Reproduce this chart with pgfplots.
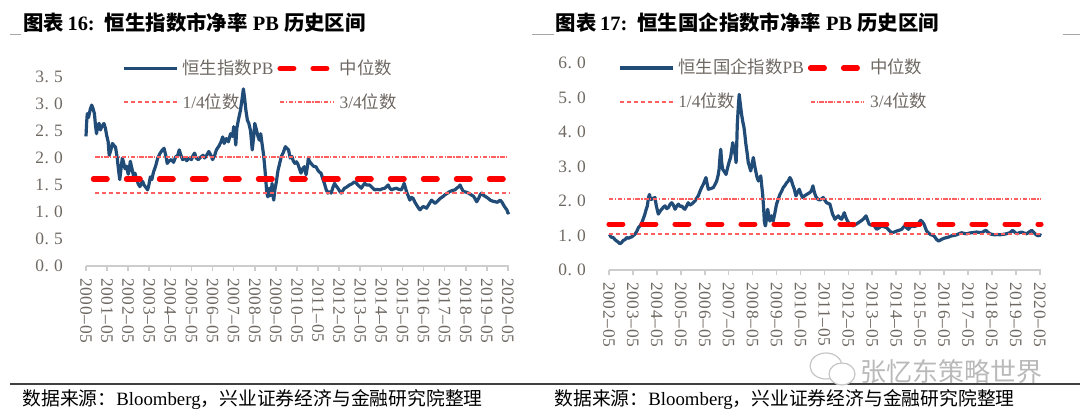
\documentclass[border=0pt]{standalone}
\usepackage{pgfplots}
\pgfplotsset{compat=1.18}
\usepackage{pgfplotstable}
\usepackage{fontspec}
\setmainfont{Liberation Serif}
\newfontfamily\cjk{Noto Sans CJK SC}
\newfontfamily\tickfont[LetterSpace=4]{Liberation Serif}
\definecolor{pbblue}{RGB}{33,76,120}
\definecolor{tickgray}{RGB}{110,104,98}
\definecolor{axisgray}{RGB}{205,205,205}
\definecolor{qred}{RGB}{255,95,95}

\pgfplotstableread{
t v
0.00 2.40
0.03 2.65
0.06 2.82
0.12 2.75
0.20 2.90
0.27 2.98
0.33 2.92
0.40 2.82
0.45 2.60
0.50 2.45
0.55 2.60
0.62 2.64
0.68 2.52
0.75 2.58
0.85 2.64
0.92 2.55
0.98 2.42
1.05 2.30
1.10 2.05
1.18 2.15
1.25 2.27
1.35 2.22
1.40 2.20
1.48 2.00
1.55 1.75
1.60 1.60
1.66 1.80
1.72 2.00
1.78 1.92
1.85 1.80
1.92 1.85
2.00 1.70
2.05 1.78
2.10 1.94
2.18 1.80
2.25 1.67
2.32 1.72
2.40 1.60
2.48 1.52
2.55 1.47
2.62 1.52
2.68 1.57
2.75 1.50
2.85 1.45
2.92 1.41
2.98 1.50
3.05 1.65
3.12 1.60
3.20 1.74
3.30 1.85
3.40 2.00
3.50 2.08
3.62 2.15
3.70 2.18
3.78 2.05
3.85 1.90
3.95 1.95
4.05 1.97
4.15 1.92
4.25 2.02
4.35 2.05
4.42 2.15
4.50 2.05
4.58 1.97
4.68 2.00
4.78 1.95
4.88 2.00
5.00 1.97
5.08 2.05
5.15 2.09
5.22 2.00
5.32 1.97
5.45 2.02
5.55 2.05
5.62 2.00
5.72 2.05
5.82 2.12
5.92 2.05
6.00 1.97
6.10 2.05
6.18 2.15
6.30 2.22
6.40 2.30
6.48 2.39
6.55 2.27
6.65 2.36
6.75 2.30
6.85 2.45
6.95 2.40
7.00 2.58
7.05 2.45
7.10 2.24
7.15 2.55
7.22 2.70
7.32 2.88
7.40 3.10
7.46 3.28
7.52 3.10
7.58 2.88
7.65 2.70
7.72 2.64
7.80 2.50
7.88 2.15
7.95 2.40
8.00 2.64
8.08 2.52
8.15 2.40
8.22 2.33
8.28 2.45
8.35 2.25
8.42 2.05
8.48 1.80
8.52 1.60
8.57 1.35
8.62 1.28
8.68 1.44
8.72 1.30
8.78 1.35
8.82 1.53
8.86 1.30
8.90 1.22
8.95 1.41
9.02 1.55
9.10 1.77
9.18 1.90
9.26 2.03
9.35 2.10
9.45 2.21
9.52 2.18
9.60 2.15
9.68 2.00
9.76 2.03
9.82 1.95
9.90 1.90
9.98 1.93
10.05 1.88
10.12 1.80
10.19 1.72
10.27 1.80
10.35 1.84
10.43 1.69
10.50 1.85
10.54 2.00
10.60 1.93
10.67 1.90
10.75 1.86
10.82 1.84
10.90 1.84
10.98 1.78
11.06 1.74
11.14 1.72
11.22 1.62
11.30 1.53
11.38 1.42
11.46 1.35
11.54 1.38
11.62 1.35
11.70 1.45
11.78 1.53
11.86 1.48
11.94 1.44
12.02 1.39
12.10 1.35
12.18 1.40
12.25 1.44
12.35 1.46
12.49 1.50
12.60 1.52
12.73 1.56
12.82 1.53
12.89 1.50
12.97 1.47
13.05 1.44
13.13 1.49
13.21 1.53
13.30 1.50
13.44 1.50
13.55 1.46
13.68 1.41
13.80 1.42
13.92 1.41
14.05 1.43
14.16 1.44
14.25 1.47
14.32 1.50
14.40 1.44
14.48 1.41
14.60 1.43
14.71 1.44
14.82 1.42
14.95 1.41
15.02 1.47
15.08 1.53
15.14 1.45
15.19 1.38
15.27 1.30
15.35 1.22
15.43 1.27
15.51 1.25
15.59 1.18
15.67 1.13
15.75 1.08
15.83 1.04
15.90 1.07
15.98 1.10
16.06 1.09
16.14 1.07
16.25 1.14
16.38 1.22
16.46 1.19
16.54 1.16
16.66 1.20
16.78 1.25
16.90 1.28
17.02 1.32
17.14 1.35
17.25 1.38
17.38 1.40
17.49 1.41
17.60 1.45
17.68 1.47
17.73 1.50
17.80 1.44
17.89 1.38
18.00 1.37
18.13 1.35
18.25 1.32
18.37 1.29
18.45 1.24
18.52 1.19
18.62 1.26
18.70 1.33
18.76 1.35
18.84 1.31
18.92 1.29
19.04 1.26
19.16 1.22
19.28 1.20
19.40 1.19
19.50 1.18
19.63 1.22
19.72 1.18
19.79 1.13
19.87 1.08
19.95 1.04
20.00 0.98
20.05 1.00
}\hsi

\pgfplotstableread{
t v
0.00 0.97
0.04 0.99
0.10 0.95
0.18 0.94
0.25 0.88
0.32 0.84
0.40 0.80
0.46 0.76
0.53 0.80
0.60 0.86
0.67 0.88
0.74 0.94
0.82 0.92
0.90 0.95
0.95 0.96
1.02 1.00
1.09 1.04
1.16 1.12
1.23 1.23
1.30 1.28
1.37 1.37
1.44 1.50
1.50 1.62
1.55 1.75
1.60 1.85
1.65 2.10
1.69 2.19
1.74 2.05
1.78 2.05
1.85 2.08
1.92 2.10
1.98 1.85
2.06 1.62
2.13 1.70
2.20 1.76
2.27 1.82
2.34 1.86
2.41 1.78
2.48 1.81
2.55 1.90
2.62 1.95
2.69 1.88
2.76 1.76
2.83 1.85
2.90 1.91
2.97 1.84
3.04 1.86
3.10 1.80
3.17 1.76
3.24 1.85
3.31 1.95
3.38 1.88
3.45 1.91
3.52 1.95
3.59 2.00
3.66 2.08
3.73 2.15
3.80 2.28
3.87 2.39
3.95 2.50
4.05 2.68
4.10 2.50
4.15 2.34
4.25 2.36
4.36 2.39
4.43 2.48
4.50 2.58
4.56 2.75
4.60 2.92
4.64 3.30
4.67 3.50
4.71 3.10
4.75 2.92
4.82 2.85
4.89 2.77
4.95 2.95
4.99 3.06
5.04 3.18
5.08 3.26
5.13 3.50
5.17 3.69
5.21 3.55
5.24 3.45
5.28 3.30
5.31 3.11
5.34 3.70
5.36 4.22
5.40 4.70
5.44 5.09
5.48 4.85
5.54 4.51
5.59 4.30
5.64 4.13
5.68 3.90
5.72 3.64
5.77 3.40
5.82 3.11
5.87 3.00
5.92 2.87
5.97 3.05
6.03 3.26
6.08 3.05
6.13 2.87
6.18 2.70
6.24 2.58
6.29 2.65
6.34 2.73
6.38 2.45
6.42 2.19
6.46 1.80
6.49 1.42
6.52 1.30
6.54 1.28
6.58 1.50
6.63 1.76
6.67 1.60
6.72 1.42
6.76 1.50
6.79 1.57
6.83 1.48
6.86 1.42
6.93 1.65
7.00 1.91
7.07 2.05
7.14 2.19
7.21 2.28
7.28 2.39
7.35 2.45
7.42 2.53
7.49 2.58
7.56 2.68
7.62 2.60
7.67 2.48
7.74 2.35
7.81 2.15
7.88 2.25
7.95 2.34
8.02 2.20
8.09 2.10
8.17 2.15
8.26 2.19
8.33 2.22
8.40 2.25
8.46 2.30
8.52 2.44
8.58 2.25
8.65 2.12
8.73 2.05
8.81 2.03
8.88 2.06
8.95 2.10
9.02 2.02
9.09 1.95
9.16 1.93
9.23 1.91
9.29 1.75
9.34 1.62
9.39 1.55
9.44 1.47
9.51 1.52
9.58 1.57
9.65 1.50
9.72 1.47
9.78 1.58
9.83 1.66
9.88 1.55
9.93 1.47
10.00 1.38
10.06 1.33
10.13 1.30
10.20 1.28
10.31 1.32
10.42 1.37
10.52 1.42
10.62 1.47
10.68 1.52
10.74 1.57
10.80 1.45
10.87 1.33
10.95 1.30
11.04 1.33
11.11 1.25
11.18 1.18
11.28 1.22
11.39 1.28
11.50 1.25
11.60 1.23
11.70 1.15
11.81 1.08
11.92 1.10
12.02 1.13
12.12 1.15
12.23 1.18
12.30 1.24
12.37 1.28
12.44 1.22
12.51 1.18
12.58 1.24
12.64 1.28
12.75 1.26
12.85 1.28
12.94 1.36
13.02 1.44
13.09 1.40
13.16 1.33
13.22 1.22
13.27 1.13
13.34 1.08
13.41 1.04
13.50 1.01
13.58 0.99
13.67 0.90
13.76 0.84
13.83 0.86
13.90 0.89
14.00 0.92
14.11 0.94
14.21 0.96
14.31 0.99
14.42 1.00
14.52 1.02
14.62 1.05
14.73 1.08
14.84 1.06
14.94 1.05
15.05 1.07
15.15 1.08
15.26 1.09
15.36 1.10
15.47 1.09
15.57 1.08
15.66 1.12
15.75 1.15
15.84 1.09
15.92 1.05
16.02 1.03
16.13 1.02
16.23 1.03
16.33 1.02
16.44 1.03
16.54 1.04
16.65 1.06
16.75 1.08
16.86 1.15
16.95 1.10
17.03 1.05
17.14 1.08
17.24 1.10
17.35 1.07
17.45 1.05
17.55 1.10
17.66 1.15
17.73 1.10
17.80 1.05
17.87 1.01
17.94 0.99
18.00 1.02
18.06 1.00
}\hscei

\pgfplotsset{
  pbstyle/.style={
    scale only axis,
    anchor=south west,
    ymin=0,
    axis x line*=bottom,
    axis y line*=left,
    x axis line style={-, draw=axisgray, line width=0.8pt},
    y axis line style={draw=none},
    ytick style={draw=none},
    xtick style={draw=axisgray, line width=0.8pt},
    tick align=outside,
    major tick length=2.5pt,
    xtick pos=bottom,
    ytick pos=left,
    yticklabel style={font=\tickfont\fontsize{8.7}{10}\selectfont, text=tickgray, xshift=-5.5pt},
    xticklabel style={font=\tickfont\fontsize{8.7}{10}\selectfont, text=tickgray, rotate=-90, anchor=west},
    legend columns=2,
    legend cell align=left,
    legend style={draw=none, fill=none, inner sep=0pt, row sep=4pt,
      font=\cjk\fontsize{8.7}{10}\selectfont, text=tickgray,
      /tikz/every even column/.append style={column sep=0pt}},
    legend image code/.code={\draw[##1] (0pt,0pt) -- (26.5pt,0pt);},
    clip=false,
  },
  medstyle/.style={color=red, line width=2.6pt, line cap=round, dash pattern=on 6.9pt off 9.6pt},
  q1style/.style={color=qred, line width=0.85pt, dash pattern=on 2pt off 1.5pt},
  q3style/.style={color=qred, line width=0.85pt, dash pattern=on 2.2pt off 0.8pt on 0.6pt off 0.8pt},
}

\begin{document}
\begin{tikzpicture}
\useasboundingbox (0pt,0pt) rectangle (540pt,-208pt);
% titles
\node[anchor=west, inner sep=0pt, font=\fontsize{10.2}{12}\selectfont] at (11.5pt,-11.25pt)
  {{\cjk\bfseries 图表}\,{\bfseries 16:}\hspace{0.5em}{\cjk\bfseries 恒生指数市净率}\ {\bfseries PB}\ {\cjk\bfseries 历史区间}};
\node[anchor=west, inner sep=0pt, font=\fontsize{10.2}{12}\selectfont] at (277.75pt,-11.5pt)
  {{\cjk\bfseries 图表}\,{\bfseries 17:}\hspace{0.5em}{\cjk\bfseries 恒生国企指数市净率}\ {\bfseries PB}\ {\cjk\bfseries 历史区间}};
\draw[gray!70, line width=0.5pt] (5pt,-17.5pt) -- (10.5pt,-17.5pt);
\draw[gray!70, line width=0.5pt] (266pt,-17.5pt) -- (277pt,-17.5pt);
\draw[gray!70, line width=0.5pt] (531.5pt,-17.5pt) -- (540pt,-17.5pt);

% left chart
\begin{axis}[pbstyle,
  at={(43pt,-133pt)},
  width=211.5pt, height=94.5pt,
  xmin=0, xmax=20.05, ymax=3.5,
  ytick={0,0.5,1,1.5,2,2.5,3,3.5},
  yticklabels={0.\hspace{0.3em}0,0.\hspace{0.3em}5,1.\hspace{0.3em}0,1.\hspace{0.3em}5,2.\hspace{0.3em}0,2.\hspace{0.3em}5,3.\hspace{0.3em}0,3.\hspace{0.3em}5},
  xtick={0,1,...,20},
  xticklabels={2000–05,2001–05,2002–05,2003–05,2004–05,2005–05,2006–05,2007–05,2008–05,2009–05,2010–05,2011–05,2012–05,2013–05,2014–05,2015–05,2016–05,2017–05,2018–05,2019–05,2020–05},
  legend style={at={(0.085,1.115)}, anchor=north west},
]
\addplot[pbblue, line width=1.6pt, line join=round] table[x=t,y=v]{\hsi};
\addlegendentry{恒生指数{\rmfamily PB}}
\addplot[medstyle] coordinates {(0.35,1.61) (20.05,1.61)};
\addlegendentry{中位数}
\addplot[q1style] coordinates {(0.45,1.35) (20.05,1.35)};
\addlegendentry{{\rmfamily 1/4}位数}
\addplot[q3style] coordinates {(0.45,2.02) (20.05,2.02)};
\addlegendentry{{\rmfamily 3/4}位数}
\end{axis}

% right chart
\begin{axis}[pbstyle,
  at={(304.5pt,-135pt)},
  width=216pt, height=103.5pt,
  xmin=0, xmax=18.05, ymax=6,
  ytick={0,1,2,3,4,5,6},
  yticklabels={0.\hspace{0.3em}0,1.\hspace{0.3em}0,2.\hspace{0.3em}0,3.\hspace{0.3em}0,4.\hspace{0.3em}0,5.\hspace{0.3em}0,6.\hspace{0.3em}0},
  xtick={0,1,...,18},
  xticklabels={2002–05,2003–05,2004–05,2005–05,2006–05,2007–05,2008–05,2009–05,2010–05,2011–05,2012–05,2013–05,2014–05,2015–05,2016–05,2017–05,2018–05,2019–05,2020–05},
  legend style={at={(0.02,1.04)}, anchor=north west},
]
\addplot[pbblue, line width=1.6pt, line join=round] table[x=t,y=v]{\hscei};
\addlegendentry{恒生国企指数{\rmfamily PB}}
\addplot[medstyle] coordinates {(0,1.33) (18.05,1.33)};
\addlegendentry{中位数}
\addplot[q1style] coordinates {(0,1.04) (18.05,1.04)};
\addlegendentry{{\rmfamily 1/4}位数}
\addplot[q3style] coordinates {(0,2.05) (18.05,2.05)};
\addlegendentry{{\rmfamily 3/4}位数}
\end{axis}

% source
\draw[black!75, line width=0.6pt] (5pt,-192pt) -- (540pt,-192pt);
\node[anchor=west, inner sep=0pt, font=\fontsize{9.4}{11}\selectfont] at (11pt,-199.75pt)
  {{\cjk 数据来源：}Bloomberg{\cjk ，兴业证券经济与金融研究院整理}};
\node[anchor=west, inner sep=0pt, font=\fontsize{9.4}{11}\selectfont] at (277pt,-199.75pt)
  {{\cjk 数据来源：}Bloomberg{\cjk ，兴业证券经济与金融研究院整理}};
% watermark
\draw[gray!45, line width=0.6pt] (413pt,-183pt) ellipse (8pt and 6.5pt);
\draw[gray!45, line width=0.6pt, fill=white] (421pt,-187pt) ellipse (6.5pt and 5.5pt);
\node[anchor=west, inner sep=0pt, text=gray!55, font=\cjk\fontsize{13}{15}\selectfont] at (430pt,-186pt) {张忆东策略世界};
\end{tikzpicture}
\end{document}
